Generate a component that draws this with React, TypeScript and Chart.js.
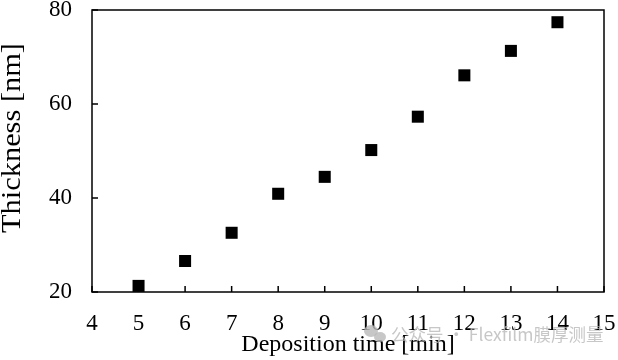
import React, { useEffect, useRef } from "react";
import { Chart, registerables } from "chart.js";

Chart.register(...registerables);

const depositionTime = [5, 6, 7, 8, 9, 10, 11, 12, 13, 14];
const thickness = [21.3, 26.6, 32.6, 40.9, 44.5, 50.2, 57.3, 66.1, 71.3, 77.4];
const xTicks = [4, 5, 6, 7, 8, 9, 10, 11, 12, 13, 14, 15];
const yTicks = [20, 40, 60, 80];
const xTitle = "Deposition time [min]";
const yTitle = "Thickness [nm]";
const watermark = "公众号 · Flexfilm膜厚测量";

const FONT = "'Liberation Serif', 'Times New Roman', serif";

const frameAndTicks = {
  id: "frameAndTicks",
  afterDraw(chart: any) {
    const { ctx, chartArea, scales } = chart;
    const { left, right, top, bottom } = chartArea;
    ctx.save();
    ctx.strokeStyle = "#000";
    ctx.lineWidth = 1.5;
    ctx.strokeRect(left, top, right - left, bottom - top);
    const len = 6;
    ctx.beginPath();
    xTicks.forEach((v) => {
      const px = scales.x.getPixelForValue(v);
      ctx.moveTo(px, bottom);
      ctx.lineTo(px, bottom - len);
    });
    yTicks.forEach((v) => {
      const py = scales.y.getPixelForValue(v);
      ctx.moveTo(left, py);
      ctx.lineTo(left + len, py);
    });
    ctx.stroke();

    // y axis title
    ctx.save();
    ctx.translate(13, 138);
    ctx.rotate(-Math.PI / 2);
    ctx.font = `28px ${FONT}`;
    ctx.fillStyle = "#000";
    ctx.textAlign = "center";
    ctx.textBaseline = "middle";
    const w = ctx.measureText(yTitle).width;
    ctx.scale(190 / w, 1);
    ctx.fillText(yTitle, 0, 0);
    ctx.restore();

    // watermark
    ctx.fillStyle = "rgba(185,185,185,0.8)";
    ctx.beginPath();
    ctx.ellipse(371, 331, 7, 6, 0, 0, Math.PI * 2);
    ctx.fill();
    ctx.beginPath();
    ctx.ellipse(380, 337, 6, 5, 0, 0, Math.PI * 2);
    ctx.fill();
    ctx.font = "17.5px 'Noto Sans CJK SC', 'Noto Sans', sans-serif";
    ctx.textBaseline = "middle";
    ctx.textAlign = "left";
    ctx.fillText(watermark, 391, 334);
    ctx.restore();
  },
};

export default function App() {
  const ref = useRef<HTMLCanvasElement>(null);
  useEffect(() => {
    document.body.style.margin = "0";
    const chart = new Chart(ref.current!, {
      type: "scatter",
      data: {
        datasets: [
          {
            data: depositionTime.map((x, i) => ({ x, y: thickness[i] })),
            pointStyle: "rect",
            pointRadius: 8.5,
            pointHoverRadius: 8.5,
            backgroundColor: "#000",
            borderColor: "#000",
            borderWidth: 0,
          },
        ],
      },
      plugins: [frameAndTicks],
      options: {
        animation: false,
        responsive: false,
        layout: { padding: { top: 10, right: 14, left: 0, bottom: 0 } },
        plugins: { legend: { display: false }, tooltip: { enabled: false } },
        scales: {
          x: {
            type: "linear",
            min: 4,
            max: 15,
            afterFit: (s: any) => {
              s.height = 68;
              s.paddingLeft = 0; s.paddingRight = 0; s.paddingTop = 0; s.paddingBottom = 0;
            },
            afterBuildTicks: (s: any) => { s.ticks = xTicks.map((v) => ({ value: v })); },
            grid: { display: false, drawTicks: false },
            border: { display: false },
            ticks: { color: "#000", font: { family: FONT, size: 23 }, padding: 18, maxRotation: 0, autoSkip: false },
            title: { display: true, text: xTitle, color: "#000", font: { family: FONT, size: 24 }, padding: { top: 0, bottom: 1 } },
          },
          y: {
            type: "linear",
            min: 20,
            max: 80,
            afterFit: (s: any) => {
              s.width = 92;
              s.paddingLeft = 0; s.paddingRight = 0; s.paddingTop = 0; s.paddingBottom = 0;
            },
            afterBuildTicks: (s: any) => { s.ticks = yTicks.map((v) => ({ value: v })); },
            grid: { display: false, drawTicks: false },
            border: { display: false },
            ticks: { color: "#000", font: { family: FONT, size: 23 }, padding: 20, autoSkip: false },
            title: { display: false },
          },
        },
      },
    });
    return () => chart.destroy();
  }, []);
  return <canvas ref={ref} width={618} height={360} style={{ display: "block" }} />;
}
